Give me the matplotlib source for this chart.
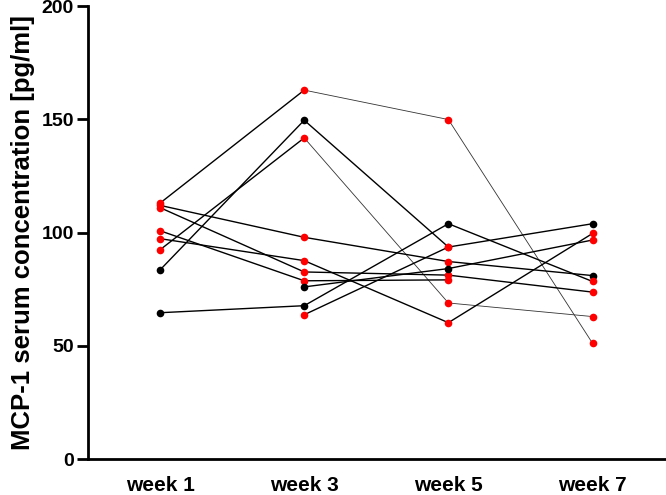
import numpy as np
import matplotlib.pyplot as plt

plt.rcParams['font.family'] = ['Liberation Sans', 'DejaVu Sans']
plt.rcParams['font.weight'] = 'bold'

weeks = ["week 1", "week 3", "week 5", "week 7"]

# one row per patient, values in pg/ml (nan = no sample)
nan = np.nan
values = [
    [113.0, 162.9, 149.9, 51.1],
    [83.5, 149.6, 93.6, 103.9],
    [92.4, 141.8, 68.9, 62.9],
    [112.0, 97.9, 87.2, 81.0],
    [97.3, 87.6, 60.2, 99.6],
    [111.0, 82.6, 81.2, 73.7],
    [100.8, 78.7, 79.1, nan],
    [nan, 76.0, 84.1, 96.7],
    [64.6, 67.7, 103.9, 78.4],
    [nan, 63.7, 93.6, nan],
]
# dot colour per patient and week
colors = [
    ["r", "r", "r", "r"],
    ["k", "k", "r", "k"],
    ["r", "r", "r", "r"],
    ["r", "r", "r", "k"],
    ["r", "r", "r", "r"],
    ["r", "r", "r", "r"],
    ["r", "r", "r", "r"],
    ["k", "k", "k", "r"],
    ["k", "k", "k", "r"],
    ["r", "r", "r", "r"],
]
# patients whose lines are drawn thin after week 3
thin = [0, 2]

fig = plt.figure(figsize=(6.66, 4.95), dpi=100)
ax = fig.add_axes([0.1321, 0.0727, 0.868, 0.915])

x = np.arange(len(weeks))
for i, (vals, cols) in enumerate(zip(values, colors)):
    if i in thin:
        ax.plot(x[:2], vals[:2], color="black", lw=1.0, zorder=2)
        ax.plot(x[1:], vals[1:], color="#333333", lw=0.6, zorder=2)
    else:
        ax.plot(x, vals, color="black", lw=1.0, zorder=2)
    for xi, v, c in zip(x, vals, cols):
        if not np.isnan(v):
            ax.plot(xi, v, "o", ms=5.5, mec="none",
                    color="red" if c == "r" else "black", zorder=3)

ax.set_xlim(-0.5, 3.51)
ax.set_ylim(0, 200)
ax.set_yticks([0, 50, 100, 150, 200])
ax.set_xticks(x)
ax.set_xticklabels(weeks, fontsize=15, fontweight="bold")
ax.tick_params(axis="x", length=0, pad=12)
ax.tick_params(axis="y", length=8, width=2, labelsize=14, pad=2)
for lab in ax.get_yticklabels():
    lab.set_fontweight("bold")
ax.spines["top"].set_visible(False)
ax.spines["right"].set_visible(False)
ax.spines["left"].set_linewidth(2)
ax.spines["bottom"].set_linewidth(2)
ax.set_ylabel("MCP-1 serum concentration [pg/ml]", fontsize=18.5,
              fontweight="bold", labelpad=5)

fig.savefig("out.png", dpi=100)
